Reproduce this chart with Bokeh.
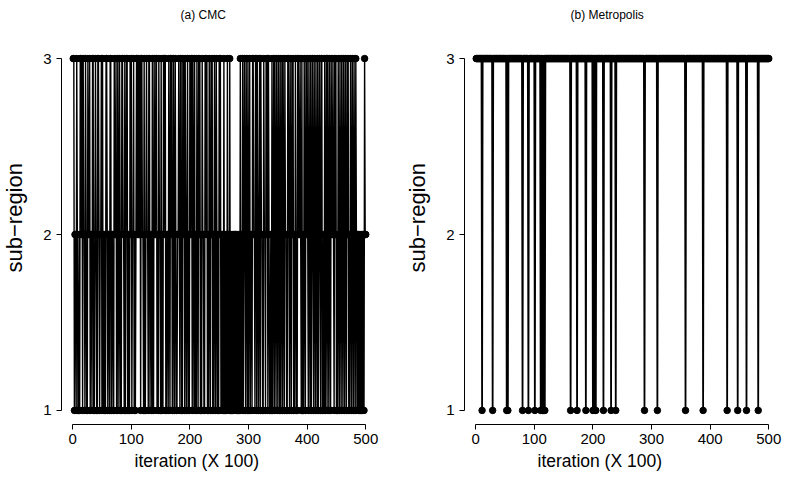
from bokeh.plotting import figure
from bokeh.layouts import row
from bokeh.models import FixedTicker, Range1d, LinearAxis, Title
from bokeh.embed import file_html
from bokeh.resources import INLINE

# ---- data ----
# CMC sampler: sub-region visited at each recorded iteration (blocks of 50 iterations)
cmc_blocks = [
    "3312213211" "2133231322" "1321132231" "2213311232" "1133212231",
    "3121213321" "2213312211" "3223113213" "2113322131" "2331211323",
    "1223121232" "3232313322" "1311232213" "3122131132" "2331213221",
    "3121323311" "2213213231" "1321321122" "3213311323" "1321231213",
    "2331321312" "1321323121" "3221133231" "2132132312" "1321321213",
    "2312121312" "1213121312" "1212121212" "1212131213" "1232132131",
    "2312213322" "1331321231" "3221132213" "2313211213" "1231321321",
    "3213123132" "1322113321" "3213231213" "2113322321" "3121321323",
    "2132131232" "1321321312" "3213311213" "1231321321" "3223213231",
    "2132132132" "1321321323" "1213213213" "2132121212" "1212121322",
]
cmc_region = [int(c) for c in "".join(cmc_blocks)]
iteration = list(range(1, len(cmc_region) + 1))

# Metropolis sampler: stays in sub-region 3 except for these iterations (sub-region 1)
metro_dips = [11, 29, 53, 55, 80, 90, 101, 111, 114, 116, 118, 162, 173, 188,
              200, 202, 205, 218, 231, 239, 288, 310, 358, 388, 429, 447, 462, 482]
metro_region = [1 if i in metro_dips else 3 for i in iteration]

x_ticks = [0, 100, 200, 300, 400, 500]
y_ticks = [1, 2, 3]
panel_titles = ["(a) CMC", "(b) Metropolis"]
x_label = "iteration (X 100)"
y_label = "sub\u2212region"

FONT = "Liberation Sans"


def spacer(px, tick):
    # an invisible axis that only reserves `px` pixels in a side panel
    return LinearAxis(ticker=FixedTicker(ticks=[tick]), axis_line_color=None,
                      major_tick_line_color="white", major_tick_out=px, major_tick_in=0,
                      minor_tick_line_color=None, minor_tick_out=0, minor_tick_in=0,
                      major_label_overrides={tick: ""}, major_label_standoff=0,
                      major_label_text_font_size="1px", major_label_text_alpha=0)


def text_title(text, size, offset):
    return Title(text=text, align="left", vertical_align="top", offset=offset,
                 standoff=0, text_font=FONT, text_font_size=size,
                 text_font_style="normal", text_color="black")


def make_panel(title, title_offset, ys, lw, width, border_right):
    p = figure(width=width, height=478,
               x_range=Range1d(-19, 520), y_range=Range1d(0.92, 3.08),
               output_backend="svg", toolbar_location=None,
               min_border_left=61, min_border_right=border_right,
               min_border_top=44, min_border_bottom=54)

    p.line(iteration, ys, line_color="black", line_width=lw)
    p.scatter(iteration, ys, size=6.5, fill_color="black", line_color="black")

    p.xgrid.visible = False
    p.ygrid.visible = False
    p.outline_line_color = None
    p.background_fill_color = "white"
    p.border_fill_color = "white"

    p.xaxis.ticker = FixedTicker(ticks=x_ticks)
    p.yaxis.ticker = FixedTicker(ticks=y_ticks)
    p.xaxis.bounds = (x_ticks[0], x_ticks[-1])
    p.yaxis.bounds = (y_ticks[0], y_ticks[-1])
    for ax in (p.xaxis, p.yaxis):
        ax.axis_line_color = "black"
        ax.axis_line_width = 1
        ax.major_tick_line_color = "black"
        ax.major_tick_in = 0
        ax.major_tick_out = 5
        ax.minor_tick_line_color = None
        ax.major_label_text_font = FONT
        ax.major_label_text_font_size = "15px"
        ax.major_label_text_color = "black"
    p.xaxis.major_label_standoff = 4
    p.yaxis.major_label_standoff = 5
    p.yaxis.major_label_orientation = "horizontal"

    # panel title and axis titles, placed like R's (slightly off-centre) labels
    p.add_layout(spacer(21, x_ticks[0]), "above")
    p.add_layout(text_title(title, "12px", title_offset), "above")
    p.add_layout(spacer(4, x_ticks[0]), "below")
    p.add_layout(text_title(x_label, "17.5px", 73), "below")
    p.add_layout(spacer(12, y_ticks[0]), "left")
    p.add_layout(text_title(y_label, "22px", 152), "left")
    return p


p1 = make_panel(panel_titles[0], 119, cmc_region, 1.4, 403, 26)
p2 = make_panel(panel_titles[1], 106, metro_region, 1.8, 387, 10)
layout = row(p1, p2)

open("out.html", "w").write(file_html(layout, INLINE))
